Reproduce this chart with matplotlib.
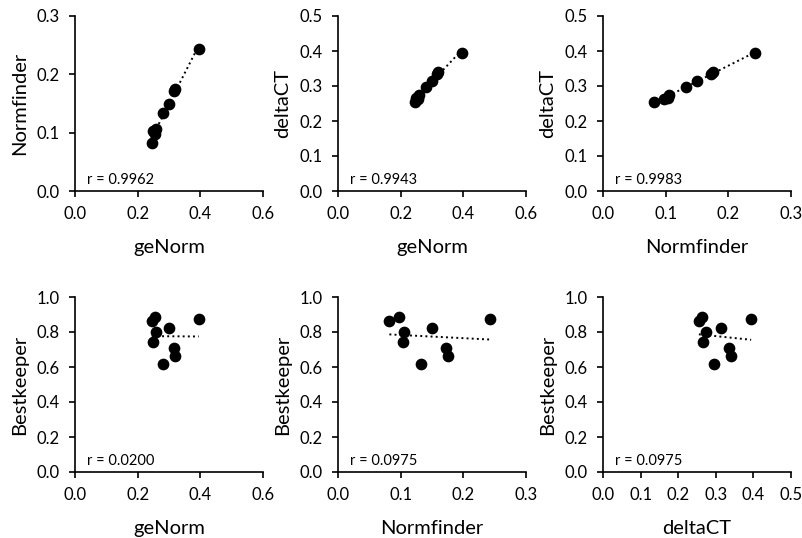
import numpy as np
import matplotlib
matplotlib.use('Agg')
import matplotlib.pyplot as plt
from matplotlib.ticker import FormatStrFormatter

# stability values for the 9 candidate genes
geNorm = [0.245, 0.255, 0.250, 0.260, 0.282, 0.300, 0.315, 0.320, 0.395]
normfinder = [0.082, 0.097, 0.103, 0.106, 0.133, 0.150, 0.172, 0.175, 0.243]
deltaCT = [0.255, 0.263, 0.265, 0.275, 0.296, 0.313, 0.335, 0.340, 0.394]
bestkeeper = [0.863, 0.885, 0.743, 0.798, 0.620, 0.825, 0.710, 0.665, 0.872]

# (x name, x data, y name, y data, r text, x max, x step, y max, y step)
panels = [
    ('geNorm', geNorm, 'Normfinder', normfinder, 'r = 0.9962', 0.6, 0.2, 0.3, 0.1),
    ('geNorm', geNorm, 'deltaCT', deltaCT, 'r = 0.9943', 0.6, 0.2, 0.5, 0.1),
    ('Normfinder', normfinder, 'deltaCT', deltaCT, 'r = 0.9983', 0.3, 0.1, 0.5, 0.1),
    ('geNorm', geNorm, 'Bestkeeper', bestkeeper, 'r = 0.0200', 0.6, 0.2, 1.0, 0.2),
    ('Normfinder', normfinder, 'Bestkeeper', bestkeeper, 'r = 0.0975', 0.3, 0.1, 1.0, 0.2),
    ('deltaCT', deltaCT, 'Bestkeeper', bestkeeper, 'r = 0.0975', 0.5, 0.1, 1.0, 0.2),
]

plt.rcParams['font.family'] = ['Lato', 'DejaVu Sans']

W, H = 802, 538
fig = plt.figure(figsize=(W / 100, H / 100), dpi=100)

lefts = [75, 338, 603]
tops = [16, 297]
aw, ah = 188, 175

for i, (xn, xd, yn, yd, rtxt, xmax, xstep, ymax, ystep) in enumerate(panels):
    row, col = divmod(i, 3)
    l = lefts[col]
    b = tops[row] + ah
    ax = fig.add_axes([l / W, (H - b) / H, aw / W, ah / H])

    x = np.array(xd)
    y = np.array(yd)
    ax.scatter(x, y, s=55, color='black', zorder=3, clip_on=False)

    # linear trendline over the data range, like excel does
    k, c = np.polyfit(x, y, 1)
    xx = np.array([x.min(), x.max()])
    ax.plot(xx, k * xx + c, linestyle=':', color='black', linewidth=1.4, zorder=2)

    ax.set_xlim(0, xmax)
    ax.set_ylim(0, ymax)
    ax.set_xticks(np.arange(0, xmax + xstep / 2, xstep))
    ax.set_yticks(np.arange(0, ymax + ystep / 2, ystep))
    ax.xaxis.set_major_formatter(FormatStrFormatter('%.1f'))
    ax.yaxis.set_major_formatter(FormatStrFormatter('%.1f'))

    for s in ['top', 'right']:
        ax.spines[s].set_visible(False)
    for s in ['left', 'bottom']:
        ax.spines[s].set_linewidth(1.2)
    ax.tick_params(direction='out', length=4, width=1.2, labelsize=12,
                   colors='black', pad=7)

    ax.set_xlabel(xn, fontsize=14.5, labelpad=12)
    ax.set_ylabel(yn, fontsize=14.5, labelpad=6)

    ax.text(0.065, 0.025, rtxt, transform=ax.transAxes, fontsize=10.5,
            ha='left', va='bottom')

fig.savefig('out.png', dpi=100)
